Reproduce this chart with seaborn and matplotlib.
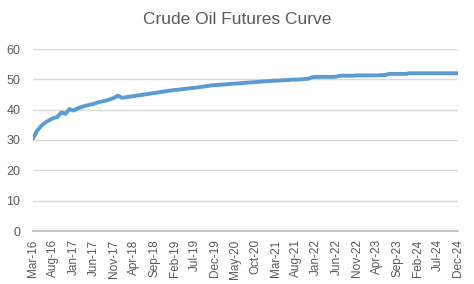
import matplotlib
matplotlib.use("Agg")
import matplotlib.pyplot as plt
import seaborn as sns
import pandas as pd
import numpy as np

months = pd.date_range("2016-03-01", "2024-12-01", freq="MS").strftime("%b-%y").tolist()
prices = [
    30.5, 33.0, 34.6, 35.7, 36.5, 37.2, 37.6, 39.1, 38.6, 40.2,
    39.7, 40.4, 40.9, 41.3, 41.6, 41.9, 42.4, 42.7, 43.0, 43.4,
    43.9, 44.6, 43.9, 44.1, 44.3, 44.5, 44.7, 44.9, 45.1, 45.3,
    45.5, 45.7, 45.9, 46.1, 46.3, 46.5, 46.6, 46.8, 46.9, 47.1,
    47.2, 47.4, 47.6, 47.8, 48.0, 48.1, 48.2, 48.3, 48.4, 48.5,
    48.6, 48.7, 48.8, 48.9, 49.0, 49.1, 49.2, 49.3, 49.4, 49.5,
    49.6, 49.6, 49.7, 49.8, 49.9, 49.9, 50.0, 50.1, 50.2, 50.7,
    50.8, 50.8, 50.8, 50.8, 50.8, 50.9, 51.2, 51.2, 51.2, 51.2,
    51.3, 51.3, 51.3, 51.3, 51.3, 51.3, 51.4, 51.4, 51.8, 51.8,
    51.8, 51.8, 51.8, 52.0, 52.0, 52.0, 52.0, 52.0, 52.0, 52.0,
    52.0, 52.0, 52.0, 52.0, 52.0, 52.0,
]
title = "Crude Oil Futures Curve"
yticks = [0, 10, 20, 30, 40, 50, 60]

df = pd.DataFrame({"idx": range(len(months)), "month": months, "price": prices})

sns.set_theme(style="white")
plt.rcParams["font.family"] = ["Liberation Sans", "DejaVu Sans"]

fig = plt.figure(figsize=(4.74, 2.84), dpi=100)
ax = fig.add_axes([33/474, 1-231/284, (458-33)/474, (231-49)/284])

sns.lineplot(data=df, x="idx", y="price", ax=ax, color="#5B9BD5", linewidth=2.8)

ax.set_xlim(0, len(months)-1)
ax.set_ylim(0, 60)
ax.set_yticks(yticks)
ax.set_yticklabels([str(v) for v in yticks], fontsize=9, color="#595959")
tick_pos = list(range(0, len(months), 5))
ax.set_xticks(tick_pos)
ax.set_xticklabels([months[i] for i in tick_pos], rotation=90, fontsize=8.5, color="#595959")
ax.grid(axis="y", color="#D9D9D9", linewidth=1)
ax.set_axisbelow(True)
for s in ["top", "right", "left"]:
    ax.spines[s].set_visible(False)
ax.spines["bottom"].set_color("#BFBFBF")
ax.tick_params(axis="x", which="major", direction="out", length=4, color="#BFBFBF", width=0.8, pad=2)
ax.tick_params(axis="y", length=0, pad=9)
ax.set_xlabel("")
ax.set_ylabel("")

fig.text(0.5, 1-20/284, title, ha="center", va="center", fontsize=12.5, color="#595959")

fig.savefig("out.png", dpi=100)
